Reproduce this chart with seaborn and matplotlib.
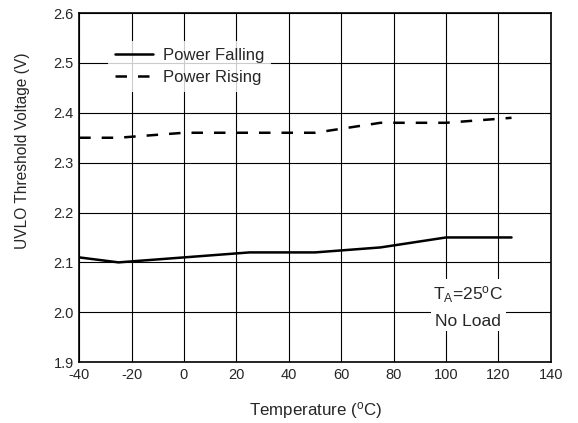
import matplotlib
matplotlib.use("Agg")
import matplotlib.pyplot as plt
import seaborn as sns
import pandas as pd

temps = [-40, -25, 0, 25, 50, 75, 100, 125]
power_falling = [2.11, 2.10, 2.11, 2.12, 2.12, 2.13, 2.15, 2.15]
power_rising = [2.35, 2.35, 2.36, 2.36, 2.36, 2.38, 2.38, 2.39]
x_ticks = [-40, -20, 0, 20, 40, 60, 80, 100, 120, 140]
y_ticks = [1.9, 2.0, 2.1, 2.2, 2.3, 2.4, 2.5, 2.6]

sns.set_theme(style="white")
plt.rcParams['font.family'] = ['Liberation Sans', 'DejaVu Sans']
plt.rcParams['mathtext.fontset'] = 'custom'
plt.rcParams['mathtext.rm'] = 'Liberation Sans'
plt.rcParams['mathtext.it'] = 'Liberation Sans'

df = pd.DataFrame({
    "Temperature": temps * 2,
    "Voltage": power_falling + power_rising,
    "Series": ["Power Falling"] * len(temps) + ["Power Rising"] * len(temps),
})

fig = plt.figure(figsize=(5.78, 4.23), dpi=100)
ax = fig.add_axes([0.137, 0.144, 0.816, 0.825])

sns.lineplot(data=df, x="Temperature", y="Voltage", hue="Series", style="Series",
             palette=["black", "black"], dashes={"Power Falling": "", "Power Rising": (4.6, 4.4)},
             linewidth=1.8, ax=ax, legend=True)

ax.set_xlim(-40, 140)
ax.set_ylim(1.9, 2.6)
ax.set_xticks(x_ticks)
ax.set_yticks(y_ticks)
ax.set_xticklabels([str(t) for t in x_ticks], fontsize=10.5)
ax.set_yticklabels([f"{t:.1f}" for t in y_ticks], fontsize=10.5)
ax.tick_params(axis='both', length=0, pad=4)
ax.grid(True, color="black", linewidth=0.8)
ax.set_axisbelow(True)
for s in ax.spines.values():
    s.set_color("black")
    s.set_linewidth(1.2)

ax.set_xlabel(r"Temperature ($^{\mathrm{o}}$C)", fontsize=12.2, labelpad=13)
ax.set_ylabel("UVLO Threshold Voltage (V)", fontsize=11.2)
ax.yaxis.set_label_coords(-0.104, 0.607)

leg = ax.legend(loc="upper left", bbox_to_anchor=(0.061, 0.92), frameon=True, fontsize=12,
                handlelength=2.3, borderpad=0.4, labelspacing=0.45, handletextpad=0.6,
                fancybox=False, borderaxespad=0)
leg.get_frame().set_facecolor("white")
leg.get_frame().set_edgecolor("white")
leg.get_frame().set_linewidth(0)

ax.text(108.5, 2.012, r"T$_{\mathrm{A}}$=25$^{\mathrm{o}}$C" + "\nNo Load", fontsize=12.5,
        ha="center", va="center", linespacing=1.75,
        bbox=dict(facecolor="white", edgecolor="none", pad=2))

fig.savefig("out.png", dpi=100)
